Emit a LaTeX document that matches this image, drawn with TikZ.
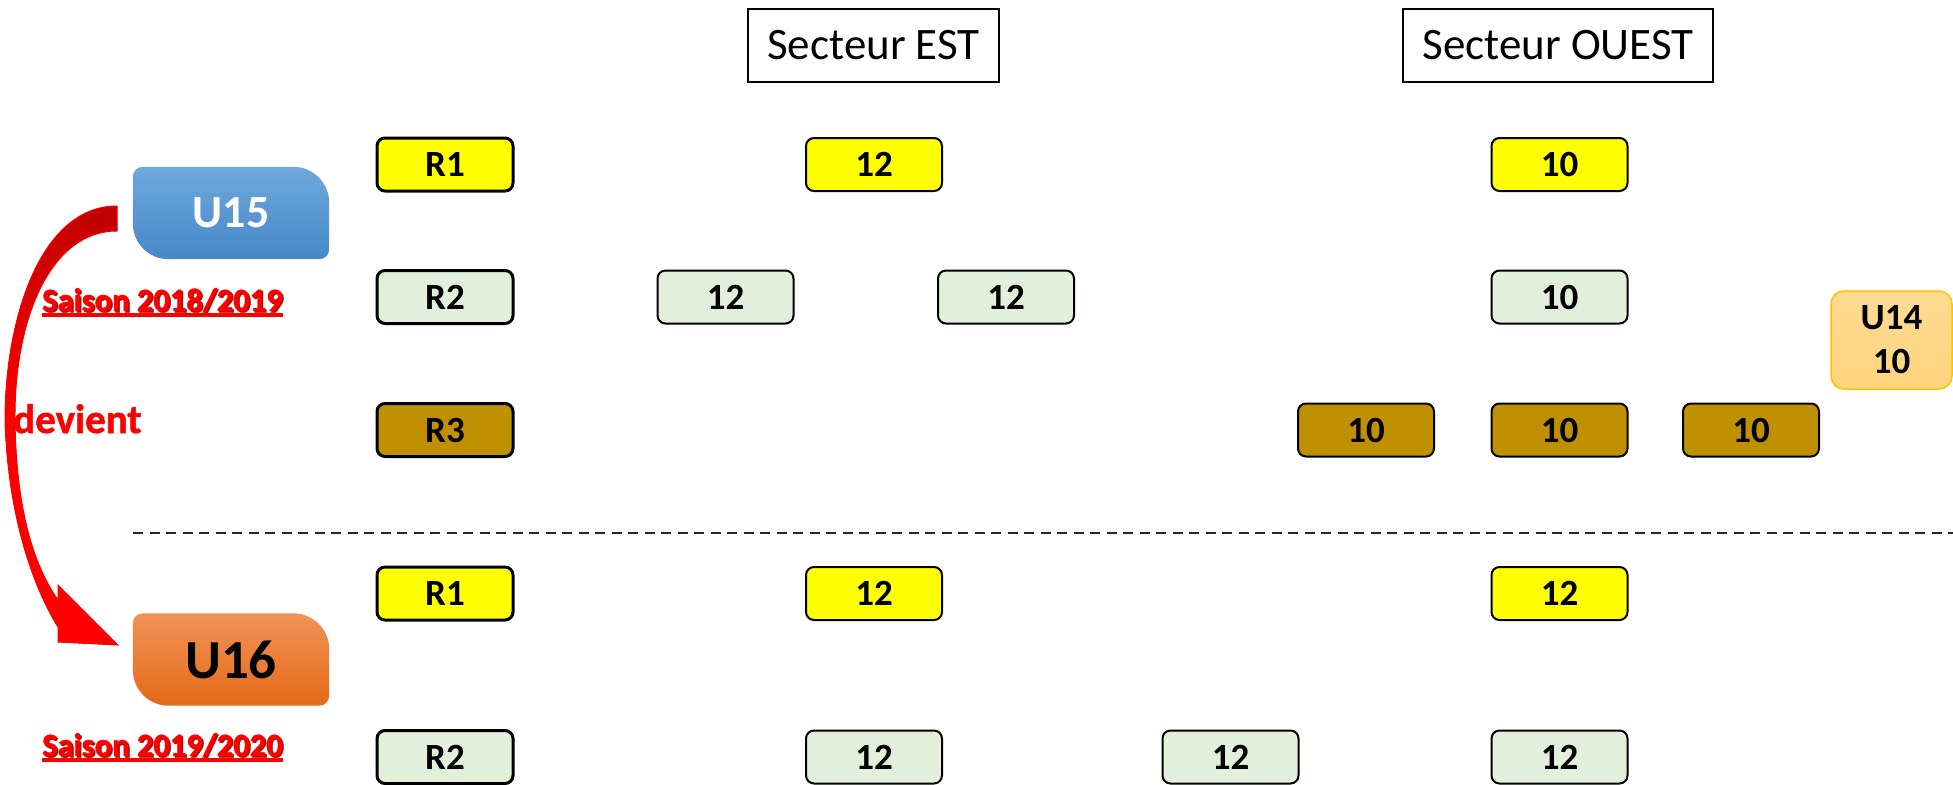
\documentclass[tikz,border=0pt]{standalone}
\usepackage{fontspec}
\setmainfont{Carlito}
\newfontfamily\epais[BoldFeatures={FakeBold=1.3}]{Carlito}
\usetikzlibrary{positioning,backgrounds}
\definecolor{jaune}{RGB}{255,255,0}
\definecolor{vertpale}{RGB}{226,239,218}
\definecolor{ocre}{RGB}{191,144,0}
\definecolor{bleuhaut}{RGB}{111,168,220}
\definecolor{bleubas}{RGB}{70,136,202}
\definecolor{orangehaut}{RGB}{242,146,88}
\definecolor{orangebas}{RGB}{228,106,22}
\definecolor{peche}{RGB}{255,218,146}
\definecolor{pechebas}{RGB}{255,212,125}
\definecolor{orbord}{RGB}{255,192,0}
\definecolor{rougefonce}{RGB}{192,0,0}

% badge with two big rounded corners (top right, bottom left)
\newcommand{\badgeshape}[3]{%
  \path[top color=#2,bottom color=#3]
    ([xshift=10pt]#1.north west) -- ([xshift=-36pt]#1.north east)
    .. controls ([xshift=-16pt]#1.north east) and ([yshift=-16pt]#1.north east) .. ([yshift=-36pt]#1.north east)
    -- ([yshift=10pt]#1.south east)
    .. controls ([yshift=4.5pt]#1.south east) and ([xshift=-4.5pt]#1.south east) .. ([xshift=-10pt]#1.south east)
    -- ([xshift=36pt]#1.south west)
    .. controls ([xshift=16pt]#1.south west) and ([yshift=16pt]#1.south west) .. ([yshift=36pt]#1.south west)
    -- ([yshift=-10pt]#1.north west)
    .. controls ([yshift=-4.5pt]#1.north west) and ([xshift=4.5pt]#1.north west) .. cycle;}

\begin{document}
\begin{tikzpicture}[x=1pt,y=-1pt,
    secteur/.style={draw=black,line width=2pt,minimum height=73pt,inner xsep=19pt,font=\fontsize{45}{54}\selectfont},
    equipe/.style={draw=black,line width=2pt,rounded corners=8pt,minimum width=136pt,minimum height=53pt,inner sep=0pt,font=\bfseries\fontsize{37}{44}\selectfont},
    niveau/.style={equipe,line width=3pt},
    r1/.style={fill=jaune},
    r2/.style={fill=vertpale},
    r3/.style={fill=ocre},
    badge/.style={minimum width=196pt,minimum height=92pt,inner sep=0pt},
    saison/.style={anchor=base west,inner sep=0pt,text=red,font=\epais\bfseries\fontsize{32.5}{39}\selectfont},
    ombre/.style={saison,text=rougefonce}]
  \useasboundingbox (0,0) rectangle (1953,784);

  %headers
  \node[secteur] (est) at (873.5,45.5) {Secteur EST};
  \node[secteur] (ouest) at (1558,45.5) {Secteur OUEST};

  %saison 2018/2019
  \node[niveau,r1] (r1a) at (445,164.5) {R1};
  \node[equipe,r1] (e1a) at (874,164.5) {12};
  \node[equipe,r1] (o1a) at (1559.5,164.5) {10};

  \node[niveau,r2] (r2a) at (445,297) {R2};
  \node[equipe,r2] (e2a) at (725.5,297) {12};
  \node[equipe,r2] (e2b) at (1006,297) {12};
  \node[equipe,r2] (o2a) at (1559.5,297) {10};

  \node[niveau,r3] (r3a) at (445,430) {R3};
  \node[equipe,r3] (o3a) at (1366,430) {10};
  \node[equipe,r3] (o3b) at (1559.5,430) {10};
  \node[equipe,r3] (o3c) at (1751,430) {10};

  \node[draw=orbord,line width=1.5pt,rounded corners=13pt,top color=peche,bottom color=pechebas,
        minimum width=121pt,minimum height=98pt,align=center,
        font=\bfseries\fontsize{37}{44}\selectfont] (u14) at (1891.5,340) {U14\\10};

  %separation
  \coordinate (sepg) at (133,533);
  \coordinate (sepd) at (1953,533);
  \draw[black!85,line width=2.5pt,dash pattern=on 10pt off 6.5pt] (sepg) -- (sepd);

  %saison 2019/2020
  \node[niveau,r1] (r1b) at (445,593.5) {R1};
  \node[equipe,r1] (e1b) at (874,593.5) {12};
  \node[equipe,r1] (o1b) at (1559.5,593.5) {12};

  \node[niveau,r2] (r2b) at (445,757) {R2};
  \node[equipe,r2] (e2c) at (874,757) {12};
  \node[equipe,r2] (e2d) at (1230.5,757) {12};
  \node[equipe,r2] (o2b) at (1559.5,757) {12};

  %categories
  \node[badge,text=white,font=\bfseries\fontsize{46}{55}\selectfont] (u15) at (231,213) {U15};
  \node[badge,text=black,font=\bfseries\fontsize{55}{66}\selectfont] (u16) at (231,659.5) {U16};
  \begin{scope}[on background layer]
    \badgeshape{u15}{bleuhaut}{bleubas}
    \badgeshape{u16}{orangehaut}{orangebas}
  \end{scope}

  %fleche
  \fill[top color=rougefonce,bottom color=red,middle color=red,draw=red,line width=1pt]
    (117,206) .. controls (40,206) and (5,320) .. (5,420)
    .. controls (8,520) and (35,590) .. (58,627)
    -- (58,642) -- (118,645) -- (58,585) -- (58,600)
    .. controls (30,560) and (16,500) .. (15,420)
    .. controls (14,320) and (50,231) .. (117,231) -- cycle;
  \node[anchor=base west,inner sep=0pt,text=red,font=\epais\bfseries\fontsize{41}{49}\selectfont] (devient) at (13,433) {devient};

  %textes saison
  \node[ombre] (sa1o) at (43.5,312.5) {Saison 2018/2019};
  \node[saison] (sa1) at (42,311) {Saison 2018/2019};
  \draw[red,line width=4pt] ([yshift=-4pt]sa1.base west) -- ([yshift=-4pt]sa1.base east);
  \node[ombre] (sa2o) at (43.5,757.5) {Saison 2019/2020};
  \node[saison] (sa2) at (42,756) {Saison 2019/2020};
  \draw[red,line width=4pt] ([yshift=-4pt]sa2.base west) -- ([yshift=-4pt]sa2.base east);
\end{tikzpicture}
\end{document}
